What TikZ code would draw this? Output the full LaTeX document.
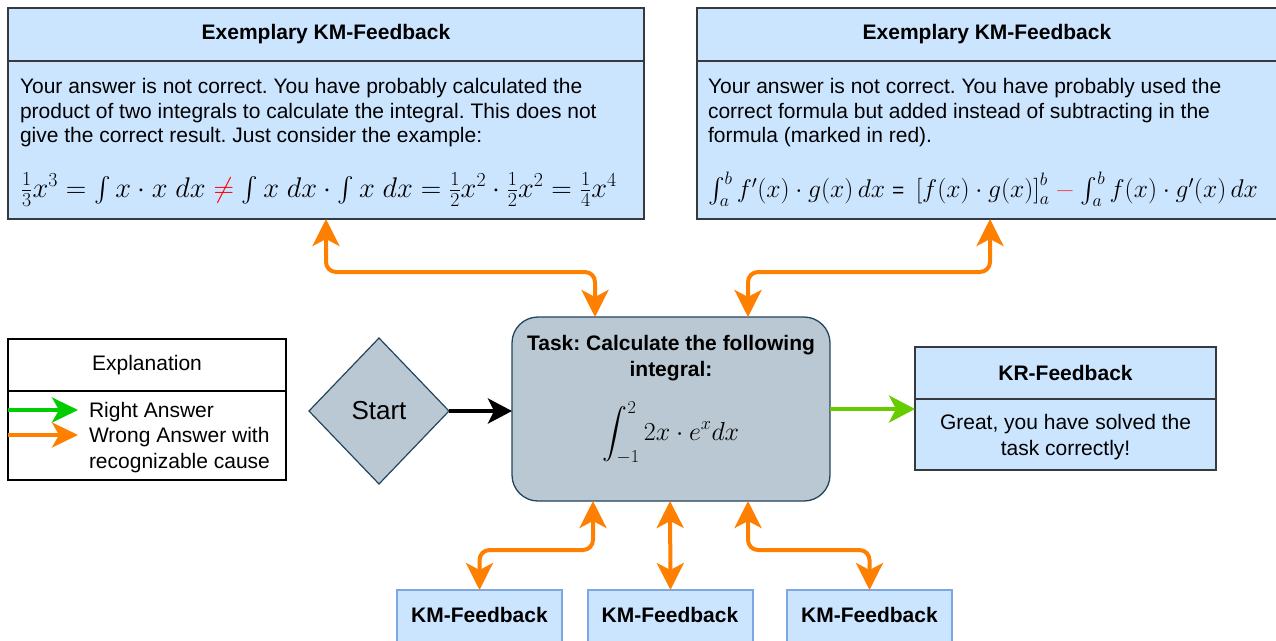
\RequirePackage{fix-cm}
\documentclass[tikz,border=0pt]{standalone}
\usepackage[no-math]{fontspec}
\setmainfont{Liberation Sans}
\usepackage{amsmath}
\usetikzlibrary{arrows.meta,shapes.geometric,calc}
\definecolor{boxfill}{HTML}{CCE5FF}
\definecolor{boxdraw}{HTML}{36393D}
\definecolor{kmdraw}{HTML}{7EA6E0}
\definecolor{taskfill}{HTML}{BAC8D3}
\definecolor{taskdraw}{HTML}{23445D}
\definecolor{orng}{HTML}{FF8000}
\definecolor{grnA}{HTML}{66CC00}
\definecolor{grnB}{HTML}{00CC00}
\definecolor{minusred}{HTML}{EA5050}
\frenchspacing
\tikzset{
  every node/.style={inner sep=0pt, outer sep=0pt},
  boxpart/.style={draw=boxdraw, fill=boxfill, line width=1.3pt, anchor=north west},
  kmbox/.style={draw=kmdraw, fill=boxfill, line width=1.3pt, anchor=north west,
     minimum width=165pt, minimum height=70pt},
  legpart/.style={draw=black, fill=white, line width=1.2pt, anchor=north west,
     minimum width=278pt},
  hdrtxt/.style={font=\fontsize{21}{26}\selectfont\bfseries},
  bodytxt/.style={font=\fontsize{21}{24.5}\selectfont, align=left},
  legtxt/.style={font=\fontsize{21}{25.5}\selectfont, align=left},
  oarr/.style={draw=orng, line width=4pt, rounded corners=10pt,
     >={Stealth[length=27pt,width=27pt,inset=7pt]}, <->},
}
\begin{document}
\begin{tikzpicture}[x=1pt,y=-1pt]
\useasboundingbox (0,0) rectangle (1276,640);

% ---- top left feedback box
\node[boxpart, minimum width=636pt, minimum height=158pt] (bodyA) at (8,61) {};
\node[boxpart, minimum width=636pt, minimum height=53pt] (hdrA) at (8,8) {};
\node[hdrtxt] (hA) at (hdrA.center) {Exemplary KM-Feedback};
\node[bodytxt, anchor=west] (tA) at (20,113) {Your answer is not correct. You have probably calculated the\\
product of two integrals to calculate the integral. This does not\\
give the correct result. Just consider the example:};
\node[anchor=west, font=\fontsize{28.4}{33}\selectfont] (fA) at (21,190)
 {$\frac{1}{3}x^3=\int x\cdot x\;dx\mathrel{\text{\textcolor{red}{$\neq$}}}\int x\;dx\cdot\int x\;dx=\frac{1}{2}x^2\cdot\frac{1}{2}x^2=\frac{1}{4}x^4$};

% ---- top right feedback box
\node[boxpart, minimum width=593pt, minimum height=158pt] (bodyB) at (697,61) {};
\node[boxpart, minimum width=593pt, minimum height=53pt] (hdrB) at (697,8) {};
\node[hdrtxt] (hB) at ([xshift=290pt]hdrB.west) {Exemplary KM-Feedback};
\node[bodytxt, anchor=west] (tB) at (708,113) {Your answer is not correct. You have probably used the\\
correct formula but added instead of subtracting in the\\
formula (marked in red).};
\node[anchor=west, font=\fontsize{25.6}{30}\selectfont] (fB) at (708,189)
 {$\int_a^b f'(x)\cdot g(x)\,dx\;\text{\fontsize{21}{24}\selectfont =}\;\left[f(x)\cdot g(x)\right]_a^b \mathbin{\color{minusred}-} \int_a^b f(x)\cdot g'(x)\,dx$};

% ---- legend
\node[legpart, minimum height=89pt] (legbody) at (8,391) {};
\node[legpart, minimum height=52pt] (leghdr) at (8,339) {};
\node[font=\fontsize{21}{24.5}\selectfont] (legt) at (leghdr.center) {Explanation};
\node[legtxt, anchor=west] (legtxt) at (89,437.5) {Right Answer\\Wrong Answer with\\recognizable cause};
\coordinate (lgG) at (78,410);
\coordinate (lgO) at (78,435);
\draw[draw=grnB, line width=4pt, -{Stealth[length=26pt,width=25pt,inset=7pt]}]
  ([yshift=25.5pt]legbody.west) -- (lgG);
\draw[draw=orng, line width=4pt, -{Stealth[length=26pt,width=25pt,inset=7pt]}]
  ([yshift=0.5pt]legbody.west) -- (lgO);

% ---- start
\node[diamond, draw=taskdraw, fill=taskfill, line width=1.2pt,
      minimum width=140pt, minimum height=146pt,
      font=\fontsize{26}{30}\selectfont] (start) at (379,411) {Start};

% ---- task
\node[draw=taskdraw, fill=taskfill, line width=1.3pt, rounded corners=26pt,
      minimum width=318pt, minimum height=184pt] (task) at (671,409) {};
\node[hdrtxt, align=center] (taskt) at (671,358) {Task: Calculate the following\\integral:};
\node[font=\fontsize{26}{30}\selectfont] (taski) at (671,433) {$\displaystyle\int_{-1}^{2}2x\cdot e^x dx$};

% ---- KR feedback
\node[boxpart, minimum width=301pt, minimum height=71pt] (krbody) at (915,399) {};
\node[boxpart, minimum width=301pt, minimum height=52pt] (krhdr) at (915,347) {};
\node[hdrtxt] (krt) at (krhdr.center) {KR-Feedback};
\node[font=\fontsize{21}{26}\selectfont, align=center] (krtxt) at ([yshift=-3pt]krbody.center) {Great, you have solved the\\task correctly!};

% ---- bottom KM feedback boxes
\node[kmbox] (km1) at (397,590) {};
\node[kmbox] (km2) at (588,590) {};
\node[kmbox] (km3) at (787,590) {};
\node[hdrtxt] (k1t) at (479.5,615) {KM-Feedback};
\node[hdrtxt] (k2t) at (670,615) {KM-Feedback};
\node[hdrtxt] (k3t) at (869.5,615) {KM-Feedback};

% ---- connectors
\draw[line width=4pt, -{Stealth[length=24pt,width=25pt,inset=6pt]}] (start.east) -- (start.east -| task.west);
\draw[draw=grnA, line width=4pt, -{Stealth[length=26pt,width=27pt,inset=7pt]}] (task.east) -- (task.east -| krhdr.west);

\draw[oarr] ([xshift=318pt]bodyA.south west) -- ++(0,53) -| ([xshift=83pt]task.north west);
\draw[oarr] ([xshift=293pt]bodyB.south west) -- ++(0,53) -| ([xshift=236pt]task.north west);

\draw[oarr] ([xshift=81pt]task.south west) -- ++(0,49) -| (km1.north);
\draw[oarr] ([xshift=158pt]task.south west) -- (km2.north);
\draw[oarr] ([xshift=236pt]task.south west) -- ++(0,49) -| (km3.north);
\end{tikzpicture}
\end{document}
